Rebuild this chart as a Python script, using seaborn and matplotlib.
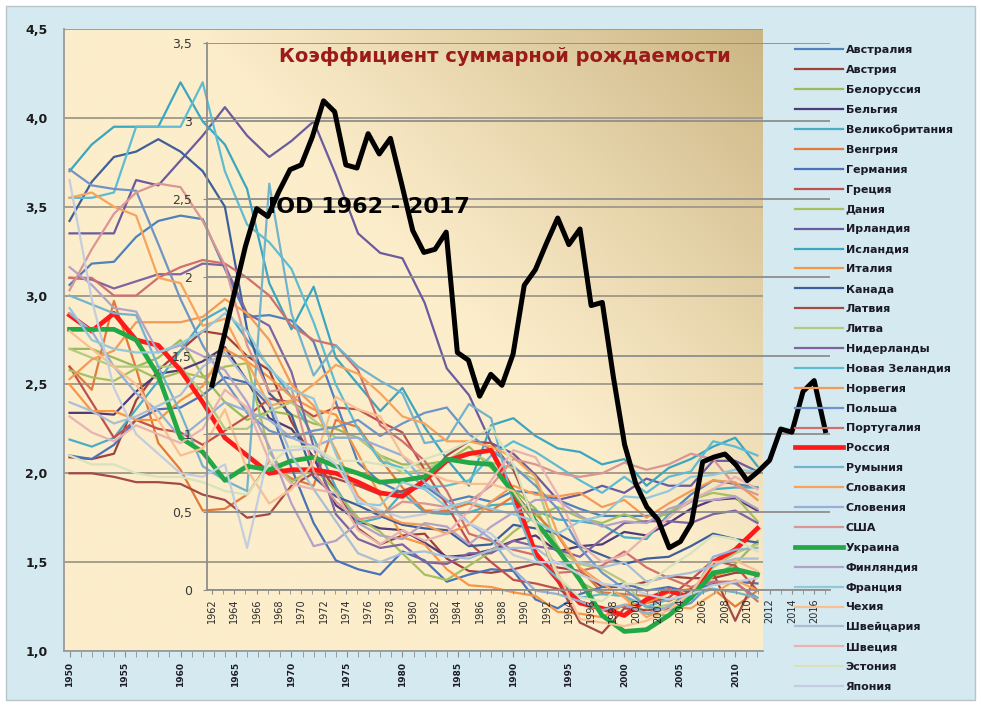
import numpy as np
import matplotlib
matplotlib.use("Agg")
import matplotlib.pyplot as plt
import seaborn as sns
from matplotlib.colors import to_rgb
from matplotlib.patches import Rectangle

# ---------------- data ----------------
YEARS = list(range(1950, 2013, 2))

COUNTRIES = ["Австралия", "Австрия", "Белоруссия", "Бельгия", "Великобритания",
             "Венгрия", "Германия", "Греция", "Дания", "Ирландия", "Исландия",
             "Италия", "Канада", "Латвия", "Литва", "Нидерланды", "Новая Зеландия",
             "Норвегия", "Польша", "Португалия", "Россия", "Румыния", "Словакия",
             "Словения", "США", "Украина", "Финляндия", "Франция", "Чехия",
             "Швейцария", "Швеция", "Эстония", "Япония"]

australia = [3.06, 3.18, 3.19, 3.33, 3.42, 3.45, 3.43, 3.15, 2.88, 2.89, 2.86, 2.74, 2.40, 2.06, 1.95, 1.89, 1.93, 1.84, 1.87, 1.84, 1.90, 1.89, 1.85, 1.80, 1.76, 1.76, 1.76, 1.77, 1.88, 1.96, 1.94, 1.92]
austria = [2.09, 2.08, 2.11, 2.41, 2.58, 2.69, 2.80, 2.78, 2.66, 2.58, 2.29, 2.08, 1.91, 1.69, 1.60, 1.65, 1.66, 1.52, 1.45, 1.44, 1.46, 1.49, 1.47, 1.45, 1.36, 1.36, 1.39, 1.42, 1.41, 1.41, 1.44, 1.44]
belarus = [2.70, 2.70, 2.65, 2.60, 2.65, 2.75, 2.55, 2.40, 2.30, 2.35, 2.33, 2.28, 2.25, 2.20, 2.10, 2.05, 2.05, 2.07, 2.15, 2.03, 1.91, 1.80, 1.59, 1.39, 1.32, 1.31, 1.21, 1.20, 1.29, 1.42, 1.49, 1.62]
belgium = [2.34, 2.34, 2.33, 2.46, 2.56, 2.58, 2.63, 2.71, 2.52, 2.31, 2.25, 2.09, 1.82, 1.73, 1.69, 1.68, 1.61, 1.53, 1.54, 1.57, 1.62, 1.65, 1.56, 1.59, 1.60, 1.67, 1.65, 1.72, 1.80, 1.85, 1.86, 1.79]
uk = [2.19, 2.15, 2.20, 2.36, 2.52, 2.69, 2.86, 2.93, 2.75, 2.60, 2.43, 2.20, 1.92, 1.72, 1.75, 1.89, 1.78, 1.77, 1.78, 1.82, 1.83, 1.79, 1.74, 1.73, 1.71, 1.64, 1.63, 1.77, 1.84, 1.91, 1.92, 1.92]
hungary = [2.60, 2.47, 2.97, 2.59, 2.17, 2.02, 1.79, 1.80, 1.88, 2.06, 1.97, 1.93, 2.30, 2.26, 2.08, 1.92, 1.79, 1.79, 1.83, 1.79, 1.87, 1.77, 1.65, 1.46, 1.33, 1.32, 1.31, 1.28, 1.34, 1.35, 1.25, 1.34]
germany = [2.10, 2.08, 2.16, 2.30, 2.36, 2.37, 2.44, 2.54, 2.51, 2.38, 2.03, 1.72, 1.51, 1.46, 1.43, 1.56, 1.51, 1.39, 1.43, 1.46, 1.45, 1.29, 1.24, 1.32, 1.36, 1.38, 1.34, 1.36, 1.33, 1.38, 1.39, 1.38]
greece = [2.60, 2.40, 2.20, 2.30, 2.25, 2.23, 2.16, 2.24, 2.32, 2.42, 2.40, 2.32, 2.37, 2.36, 2.29, 2.23, 2.02, 1.82, 1.61, 1.50, 1.40, 1.38, 1.35, 1.28, 1.24, 1.25, 1.27, 1.30, 1.40, 1.51, 1.48, 1.34]
denmark = [2.58, 2.54, 2.52, 2.59, 2.53, 2.57, 2.54, 2.60, 2.62, 2.12, 1.95, 2.03, 1.90, 1.75, 1.67, 1.55, 1.43, 1.40, 1.48, 1.56, 1.67, 1.76, 1.81, 1.75, 1.72, 1.77, 1.72, 1.78, 1.85, 1.89, 1.87, 1.73]
ireland = [3.35, 3.35, 3.35, 3.65, 3.62, 3.76, 3.90, 4.06, 3.90, 3.78, 3.87, 3.98, 3.68, 3.35, 3.24, 3.21, 2.96, 2.59, 2.44, 2.17, 2.11, 1.99, 1.85, 1.88, 1.93, 1.89, 1.97, 1.93, 1.93, 2.07, 2.07, 2.01]
iceland = [3.70, 3.85, 3.95, 3.95, 3.95, 4.20, 3.98, 3.85, 3.60, 3.07, 2.81, 3.05, 2.65, 2.50, 2.35, 2.48, 2.26, 2.08, 1.93, 2.27, 2.31, 2.21, 2.14, 2.12, 2.05, 2.08, 1.93, 2.03, 2.08, 2.15, 2.20, 2.04]
italy = [2.50, 2.35, 2.35, 2.30, 2.30, 2.41, 2.49, 2.70, 2.63, 2.54, 2.43, 2.36, 2.33, 2.11, 1.87, 1.64, 1.60, 1.46, 1.37, 1.36, 1.33, 1.31, 1.22, 1.21, 1.19, 1.26, 1.27, 1.33, 1.35, 1.42, 1.46, 1.43]
canada = [3.42, 3.64, 3.78, 3.81, 3.88, 3.81, 3.70, 3.50, 2.81, 2.45, 2.33, 1.98, 1.87, 1.82, 1.76, 1.71, 1.69, 1.68, 1.59, 1.60, 1.71, 1.69, 1.66, 1.59, 1.54, 1.49, 1.52, 1.53, 1.59, 1.66, 1.63, 1.61]
latvia = [2.00, 2.00, 1.98, 1.95, 1.95, 1.94, 1.88, 1.85, 1.75, 1.77, 1.93, 2.00, 1.97, 1.93, 1.88, 1.90, 1.95, 2.10, 2.18, 2.17, 2.02, 1.73, 1.39, 1.16, 1.10, 1.24, 1.23, 1.24, 1.35, 1.44, 1.17, 1.44]
lithuania = [2.70, 2.65, 2.60, 2.60, 2.60, 2.60, 2.45, 2.25, 2.25, 2.35, 2.40, 2.30, 2.20, 2.20, 2.10, 2.00, 2.02, 2.08, 2.12, 2.06, 2.03, 1.96, 1.57, 1.49, 1.46, 1.39, 1.24, 1.26, 1.31, 1.47, 1.55, 1.60]
netherlands = [3.10, 3.09, 3.04, 3.08, 3.12, 3.12, 3.18, 3.17, 2.90, 2.83, 2.57, 2.15, 1.77, 1.63, 1.58, 1.60, 1.50, 1.49, 1.55, 1.55, 1.62, 1.59, 1.57, 1.53, 1.63, 1.72, 1.73, 1.73, 1.72, 1.77, 1.79, 1.72]
new_zealand = [3.55, 3.55, 3.58, 3.95, 3.95, 3.95, 4.20, 3.70, 3.40, 3.30, 3.15, 2.85, 2.50, 2.25, 2.07, 2.03, 1.92, 1.93, 1.96, 2.10, 2.18, 2.12, 2.04, 1.96, 1.89, 1.98, 1.89, 1.98, 2.01, 2.18, 2.15, 2.10]
norway = [2.53, 2.64, 2.69, 2.85, 2.85, 2.85, 2.88, 2.98, 2.90, 2.75, 2.50, 2.38, 2.13, 1.87, 1.77, 1.72, 1.71, 1.66, 1.71, 1.84, 1.93, 1.88, 1.87, 1.89, 1.81, 1.85, 1.75, 1.83, 1.90, 1.96, 1.95, 1.85]
poland = [3.71, 3.62, 3.60, 3.59, 3.29, 2.98, 2.72, 2.52, 2.34, 2.24, 2.20, 2.24, 2.26, 2.30, 2.21, 2.28, 2.34, 2.37, 2.22, 2.13, 2.04, 1.93, 1.80, 1.58, 1.44, 1.35, 1.25, 1.23, 1.27, 1.39, 1.38, 1.30]
portugal = [3.10, 3.10, 3.00, 3.00, 3.10, 3.16, 3.20, 3.18, 3.10, 3.00, 2.83, 2.75, 2.72, 2.58, 2.27, 2.18, 2.07, 1.90, 1.66, 1.62, 1.57, 1.54, 1.44, 1.45, 1.48, 1.56, 1.47, 1.41, 1.36, 1.39, 1.39, 1.28]
russia = [2.89, 2.80, 2.90, 2.75, 2.72, 2.58, 2.40, 2.20, 2.10, 2.00, 2.02, 2.02, 2.00, 1.95, 1.89, 1.87, 1.96, 2.07, 2.11, 2.13, 1.89, 1.55, 1.40, 1.27, 1.24, 1.20, 1.29, 1.34, 1.30, 1.50, 1.57, 1.69]
romania = [3.00, 2.95, 2.90, 2.89, 2.60, 2.34, 2.04, 1.96, 1.90, 3.63, 2.90, 2.55, 2.72, 2.60, 2.52, 2.45, 2.17, 2.19, 2.39, 2.31, 1.83, 1.52, 1.41, 1.30, 1.32, 1.31, 1.25, 1.29, 1.31, 1.35, 1.33, 1.30]
slovakia = [3.55, 3.58, 3.50, 3.45, 3.10, 3.07, 2.83, 2.87, 2.63, 2.38, 2.41, 2.50, 2.61, 2.56, 2.45, 2.32, 2.28, 2.18, 2.18, 2.15, 2.09, 1.98, 1.66, 1.47, 1.38, 1.30, 1.19, 1.25, 1.24, 1.32, 1.40, 1.34]
slovenia = [2.90, 2.80, 2.60, 2.45, 2.35, 2.20, 2.30, 2.40, 2.35, 2.30, 2.20, 2.15, 2.20, 2.20, 2.15, 2.10, 1.95, 1.85, 1.72, 1.63, 1.46, 1.34, 1.32, 1.28, 1.23, 1.26, 1.21, 1.25, 1.31, 1.53, 1.57, 1.58]
usa = [3.03, 3.26, 3.46, 3.58, 3.63, 3.61, 3.42, 3.17, 2.72, 2.46, 2.48, 2.01, 1.84, 1.74, 1.76, 1.84, 1.83, 1.81, 1.84, 1.93, 2.08, 2.05, 2.00, 1.98, 2.00, 2.06, 2.02, 2.05, 2.11, 2.08, 1.93, 1.88]
ukraine = [2.81, 2.81, 2.81, 2.75, 2.55, 2.20, 2.12, 1.96, 2.04, 2.02, 2.07, 2.09, 2.04, 2.00, 1.95, 1.96, 1.98, 2.08, 2.06, 2.05, 1.89, 1.73, 1.57, 1.40, 1.20, 1.11, 1.12, 1.20, 1.30, 1.44, 1.46, 1.43]
finland = [3.16, 3.06, 2.93, 2.91, 2.68, 2.72, 2.66, 2.58, 2.40, 2.15, 1.83, 1.59, 1.62, 1.72, 1.65, 1.63, 1.72, 1.70, 1.60, 1.70, 1.78, 1.85, 1.85, 1.76, 1.70, 1.73, 1.72, 1.80, 1.84, 1.85, 1.87, 1.80]
france = [2.93, 2.75, 2.70, 2.68, 2.68, 2.73, 2.80, 2.90, 2.80, 2.59, 2.47, 2.42, 2.11, 1.83, 1.82, 1.95, 1.91, 1.81, 1.84, 1.80, 1.77, 1.73, 1.66, 1.73, 1.76, 1.87, 1.86, 1.90, 1.98, 1.99, 2.02, 2.01]
czechia = [2.80, 2.70, 2.60, 2.50, 2.30, 2.10, 2.14, 2.36, 2.02, 1.83, 1.91, 2.06, 2.43, 2.36, 2.32, 2.10, 2.01, 1.96, 1.94, 1.94, 1.90, 1.72, 1.44, 1.18, 1.16, 1.14, 1.17, 1.23, 1.33, 1.50, 1.51, 1.45]
switzerland = [2.40, 2.35, 2.28, 2.32, 2.38, 2.44, 2.60, 2.68, 2.52, 2.41, 2.10, 1.91, 1.73, 1.55, 1.50, 1.55, 1.56, 1.53, 1.52, 1.57, 1.58, 1.58, 1.49, 1.50, 1.47, 1.50, 1.39, 1.42, 1.44, 1.48, 1.52, 1.52]
sweden = [2.32, 2.23, 2.18, 2.27, 2.22, 2.17, 2.25, 2.47, 2.37, 2.07, 1.94, 1.91, 1.89, 1.68, 1.60, 1.68, 1.62, 1.66, 1.79, 1.96, 2.13, 2.09, 1.88, 1.60, 1.50, 1.54, 1.65, 1.75, 1.85, 1.91, 1.98, 1.91]
estonia = [2.10, 2.05, 2.05, 2.00, 1.98, 1.98, 1.95, 1.90, 1.88, 2.05, 2.15, 2.15, 2.07, 2.07, 2.05, 2.02, 2.08, 2.12, 2.18, 2.26, 2.05, 1.71, 1.42, 1.30, 1.28, 1.38, 1.37, 1.47, 1.55, 1.65, 1.63, 1.56]
japan = [3.65, 2.98, 2.48, 2.22, 2.11, 2.00, 1.98, 2.05, 1.58, 2.13, 2.13, 2.14, 2.05, 1.85, 1.79, 1.75, 1.77, 1.81, 1.72, 1.66, 1.54, 1.50, 1.50, 1.43, 1.38, 1.36, 1.32, 1.29, 1.32, 1.37, 1.39, 1.41]

SERIES = [australia, austria, belarus, belgium, uk, hungary, germany, greece,
          denmark, ireland, iceland, italy, canada, latvia, lithuania, netherlands,
          new_zealand, norway, poland, portugal, russia, romania, slovakia,
          slovenia, usa, ukraine, finland, france, czechia, switzerland, sweden,
          estonia, japan]

COLORS = ["#4f81bd", "#a0403d", "#9bbb59", "#4d3b7a", "#4bacc6", "#e07b39",
          "#4a72b8", "#c0504d", "#a6c060", "#6b5b9e", "#3aa6c0", "#f79646",
          "#3d5f9a", "#a34a47", "#b3ca80", "#8064a2", "#5ebcd2", "#f59a55",
          "#6e94c8", "#d0706e", "#ff1a1a", "#72b4cc", "#f7a35c", "#93b0d6",
          "#d99694", "#22a846", "#b3a2c7", "#92c8da", "#f8bf92", "#a9bfd6",
          "#e8b3b2", "#d6e3bc", "#c3cde0"]

IOD_YEARS = list(range(1962, 2018))
IOD = [1.31, 1.60, 1.90, 2.20, 2.44, 2.39, 2.55, 2.69, 2.72, 2.90,
       3.13, 3.06, 2.72, 2.70, 2.92, 2.79, 2.89, 2.60, 2.30, 2.16,
       2.18, 2.29, 1.52, 1.47, 1.24, 1.38, 1.31, 1.51, 1.95, 2.05,
       2.22, 2.38, 2.21, 2.31, 1.82, 1.84, 1.36, 0.93, 0.68, 0.53,
       0.45, 0.27, 0.31, 0.43, 0.82, 0.85, 0.87, 0.80, 0.70, 0.76,
       0.83, 1.03, 1.01, 1.27, 1.34, 1.02]

OUTER_YTICKS = [1.0, 1.5, 2.0, 2.5, 3.0, 3.5, 4.0, 4.5]
OUTER_YLABELS = ["1,0", "1,5", "2,0", "2,5", "3,0", "3,5", "4,0", "4,5"]
OUTER_XTICKS = list(range(1950, 2011, 5))
INNER_YTICKS = [0, 0.5, 1, 1.5, 2, 2.5, 3, 3.5]
INNER_YLABELS = ["0", "0,5", "1", "1,5", "2", "2,5", "3", "3,5"]
INNER_XTICKS = list(range(1962, 2017, 2))

TITLE = "Коэффициент суммарной рождаемости"
IOD_LABEL = "IOD 1962 - 2017"

# ---------------- figure ----------------
W, H = 981, 706
fig = plt.figure(figsize=(W / 100, H / 100), dpi=100, facecolor="white")
fig.patches.append(Rectangle((6 / W, 6 / H), (W - 12) / W, (H - 12) / H,
                             transform=fig.transFigure, facecolor="#d5e9f0",
                             edgecolor="#b9c4c8", lw=1.0, zorder=-10))

# outer chart
ax = fig.add_axes([64 / W, 55 / H, 699 / W, 622 / H])
ax.set_zorder(1)
ax.set_xlim(1949.5, 2012.5)
ax.set_ylim(1.0, 4.5)

# gradient plot-area fill
gw, gh = 300, 200
u = np.linspace(0, 1, gw)[None, :]
v = np.linspace(0, 1, gh)[:, None]
t = np.clip((0.7 * u + 0.6 * v - 0.72) / 0.58, 0, 1) ** 1.1
c0 = np.array(to_rgb("#fcedcb"))
c1 = np.array(to_rgb("#cbb583"))
img = c0[None, None, :] * (1 - t[..., None]) + c1[None, None, :] * t[..., None]
ax.imshow(img, extent=(1949.5, 2012.5, 1.0, 4.5), origin="lower",
          aspect="auto", zorder=0, interpolation="bilinear")

ax.set_yticks(OUTER_YTICKS)
ax.set_yticklabels(OUTER_YLABELS, fontsize=9, fontweight="bold", color="#1b1b1b")
ax.set_xticks(OUTER_XTICKS)
ax.set_xticklabels([str(y) for y in OUTER_XTICKS], rotation=90, fontsize=6.5,
                   fontweight="bold", color="#1b1b2b")
ax.set_xticks(list(range(1950, 2013)), minor=True)
ax.tick_params(axis="y", length=0, pad=12)
ax.tick_params(axis="x", which="both", length=4, color="#8c8c8c", pad=4, direction="out")
ax.grid(axis="y", color="#a09888", lw=1.3, zorder=1)
ax.set_axisbelow(True)
for side in ("top", "right"):
    ax.spines[side].set_visible(False)
for side in ("left", "bottom"):
    ax.spines[side].set_color("#9a9a9a")
    ax.spines[side].set_linewidth(1.3)

handles = []
for name, vals, col in zip(COUNTRIES, SERIES, COLORS):
    lw = 3.4 if name in ("Россия", "Украина") else 1.6
    sns.lineplot(x=YEARS, y=vals, ax=ax, color=col, lw=lw, legend=False, zorder=3)
    ln = ax.lines[-1]
    ln.set_label(name)
    handles.append(ln)
ax.set_xlabel("")
ax.set_ylabel("")

# inner chart (IOD)
ax2 = fig.add_axes([207 / W, 116 / H, 623 / W, 547 / H])
ax2.set_zorder(2)
ax2.patch.set_visible(False)
ax2.set_xlim(1961.55, 2017.42)
ax2.set_ylim(0, 3.5)
ax2.grid(axis="y", color="#8e8e8e", lw=1.3)
ax2.set_yticks(INNER_YTICKS)
ax2.set_yticklabels(INNER_YLABELS, fontsize=9, color="#3a3a3a")
ax2.set_xticks(INNER_XTICKS)
ax2.set_xticklabels([str(y) for y in INNER_XTICKS], rotation=90, fontsize=7,
                    color="#2b2b2b")
ax2.set_xticks(IOD_YEARS, minor=True)
ax2.tick_params(axis="y", length=3, color="#8c8c8c", pad=8)
ax2.tick_params(axis="x", which="both", length=3, color="#8c8c8c", pad=3)
for side in ("top", "right"):
    ax2.spines[side].set_visible(False)
for side in ("left", "bottom"):
    ax2.spines[side].set_color("#8e8e8e")
    ax2.spines[side].set_linewidth(1.3)
sns.lineplot(x=IOD_YEARS, y=IOD, ax=ax2, color="black", lw=3.6, legend=False,
             zorder=5)
ax2.set_xlabel("")
ax2.set_ylabel("")

fig.text(505 / W, 1 - 57 / H, TITLE, ha="center", va="center",
         color="#9b1b1b", fontsize=14, fontweight="bold", zorder=5)
fig.text(268 / W, 1 - 207 / H, IOD_LABEL, ha="left", va="center",
         color="black", fontsize=16, fontweight="bold", zorder=5)

leg = fig.legend(handles=handles, labels=COUNTRIES, loc="upper left",
                 bbox_to_anchor=(795 / W, 1 - 45 / H), frameon=False,
                 prop={"size": 8, "weight": "bold"}, handlelength=4.3,
                 handletextpad=0.25, labelspacing=0.89, borderpad=0,
                 borderaxespad=0)
leg.set_zorder(5)
for txt in leg.get_texts():
    txt.set_color("#1a1a2a")

fig.savefig("out.png", dpi=100, facecolor=fig.get_facecolor())
